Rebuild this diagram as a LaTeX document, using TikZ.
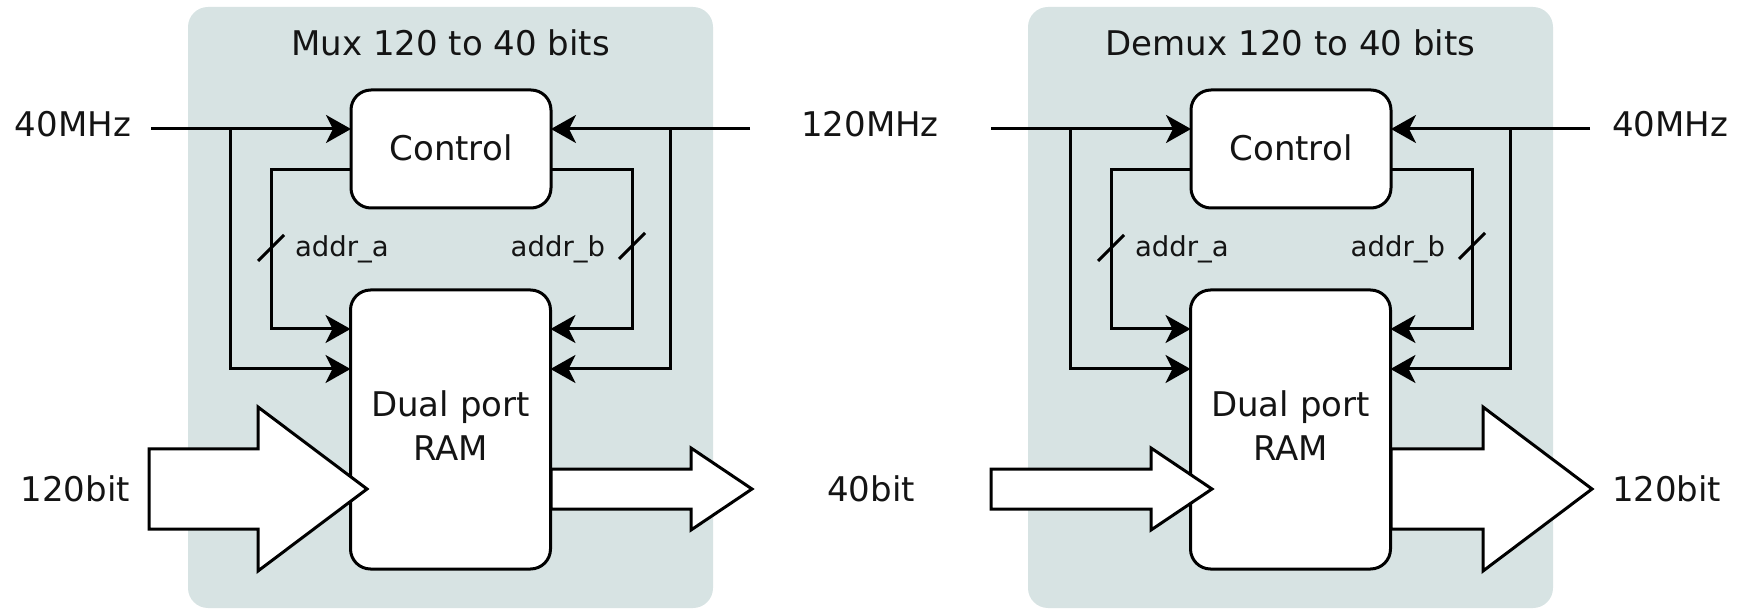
\documentclass[tikz,border=0pt]{standalone}
\usepackage{fontspec}
\setmainfont{DejaVu Sans}
\usetikzlibrary{arrows.meta}
\definecolor{panelbg}{RGB}{215,227,227}
\definecolor{inkc}{RGB}{20,20,20}
\newcommand{\mainsz}{\fontsize{34}{42}\selectfont}
\newcommand{\ramsz}{\fontsize{34}{44}\selectfont}
\newcommand{\addrsz}{\fontsize{27.5}{32}\selectfont}
\begin{document}
\begin{tikzpicture}[x=1pt,y=-1pt,
  panel/.style={fill=panelbg, draw=none, rounded corners=20pt, inner sep=0pt, outer sep=0pt,
    minimum width=525pt, minimum height=601pt, anchor=north west},
  block/.style={draw=black, line width=3pt, fill=white, rounded corners=20pt, inner sep=0pt,
    outer sep=0pt, align=center, font=\mainsz, text=inkc},
  wire/.style={line width=3pt, draw=black},
  arr/.style={wire, -{Stealth[length=25pt,width=28pt,inset=7pt]}},
  fat/.style={line width=3pt, draw=black, fill=white, line join=miter},
  lbl/.style={inner sep=0pt, outer sep=0pt, font=\mainsz, text=inkc},
  albl/.style={inner sep=0pt, outer sep=0pt, font=\addrsz, text=inkc},
  slashmark/.style={line width=3pt},
]
\useasboundingbox (0,0) rectangle (1738,609);

% ---------- panels ----------
\node[panel] (panelL) at (188,7) {};
\node[panel] (panelR) at (1028,7) {};
\node[lbl, anchor=base] (titleL) at (450.5,56) {Mux 120 to 40 bits};
\node[lbl, anchor=base] (titleR) at (1290.5,56) {Demux 120 to 40 bits};

% ---------- left panel blocks ----------
\node[block, minimum width=200pt, minimum height=118pt] (ctrlL) at (451,149) {\raisebox{3pt}{Control}};
\node[block, minimum width=200pt, minimum height=279pt] (ramL) at (450.5,429.5) {\raisebox{1pt}{\ramsz\begin{tabular}{@{}c@{}}Dual port\\RAM\end{tabular}}};

% ---------- right panel blocks ----------
\node[block, minimum width=200pt, minimum height=118pt] (ctrlR) at (1291,149) {\raisebox{3pt}{Control}};
\node[block, minimum width=200pt, minimum height=279pt] (ramR) at (1290.5,429.5) {\raisebox{1pt}{\ramsz\begin{tabular}{@{}c@{}}Dual port\\RAM\end{tabular}}};

% helper rows
\coordinate (yclk) at (0,129);
\coordinate (yaddr) at (0,170);
\coordinate (yra) at (0,329);
\coordinate (yrc) at (0,369);

% ---------- left panel wires ----------
\coordinate (inL) at (151,129);
\coordinate (inLR) at (750,129);
\coordinate (jL) at (230,129);
\coordinate (jLR) at (670,129);
\coordinate (aL) at (271,248);
\coordinate (bL) at (632,246);

\draw[arr] (inL) -- (inL -| ctrlL.west);
\draw[arr] (inLR) -- (inLR -| ctrlL.east);
\draw[arr] (jL) |- (ramL.west |- yrc);
\draw[arr] (jLR) |- (ramL.east |- yrc);
\draw[arr] (ctrlL.west |- yaddr) -| (aL) |- (ramL.west |- yra);
\draw[arr] (ctrlL.east |- yaddr) -| (bL) |- (ramL.east |- yra);
\draw[slashmark] ([shift={(-13,13)}]aL) -- ([shift={(13,-13)}]aL);
\draw[slashmark] ([shift={(-13,13)}]bL) -- ([shift={(13,-13)}]bL);
\node[albl, anchor=base west] (addraL) at (295,257) {addr\_a};
\node[albl, anchor=base east] (addrbL) at (605,257) {addr\_b};

% ---------- right panel wires ----------
\coordinate (inR) at (991,129);
\coordinate (inRR) at (1590,129);
\coordinate (jR) at (1070,129);
\coordinate (jRR) at (1510,129);
\coordinate (aR) at (1111,248);
\coordinate (bR) at (1472,246);

\draw[arr] (inR) -- (inR -| ctrlR.west);
\draw[arr] (inRR) -- (inRR -| ctrlR.east);
\draw[arr] (jR) |- (ramR.west |- yrc);
\draw[arr] (jRR) |- (ramR.east |- yrc);
\draw[arr] (ctrlR.west |- yaddr) -| (aR) |- (ramR.west |- yra);
\draw[arr] (ctrlR.east |- yaddr) -| (bR) |- (ramR.east |- yra);
\draw[slashmark] ([shift={(-13,13)}]aR) -- ([shift={(13,-13)}]aR);
\draw[slashmark] ([shift={(-13,13)}]bR) -- ([shift={(13,-13)}]bR);
\node[albl, anchor=base west] (addraR) at (1135,257) {addr\_a};
\node[albl, anchor=base east] (addrbR) at (1445,257) {addr\_b};

% ---------- data arrows ----------
\draw[fat] (149,449) -- (258,449) -- (258,407) -- (367,489) -- (258,571) -- (258,529) -- (149,529) -- cycle;
\draw[fat] (551,469) -- (691,469) -- (691,448) -- (752,489) -- (691,530) -- (691,509) -- (551,509) -- cycle;
\draw[fat] (991,469) -- (1151,469) -- (1151,448) -- (1212,489) -- (1151,530) -- (1151,509) -- (991,509) -- cycle;
\draw[fat] (1391,449) -- (1483,449) -- (1483,407) -- (1592,489) -- (1483,571) -- (1483,529) -- (1391,529) -- cycle;

% ---------- outer labels ----------
\node[lbl, anchor=base east] (f40L) at (131,137) {40MHz};
\node[lbl, anchor=base] (f120) at (870,137) {120MHz};
\node[lbl, anchor=base west] (f40R) at (1612,137) {40MHz};
\node[lbl, anchor=base east] (b120L) at (130,501) {120bit};
\node[lbl, anchor=base] (b40) at (871,501) {40bit};
\node[lbl, anchor=base west] (b120R) at (1612,501) {120bit};
\end{tikzpicture}
\end{document}
